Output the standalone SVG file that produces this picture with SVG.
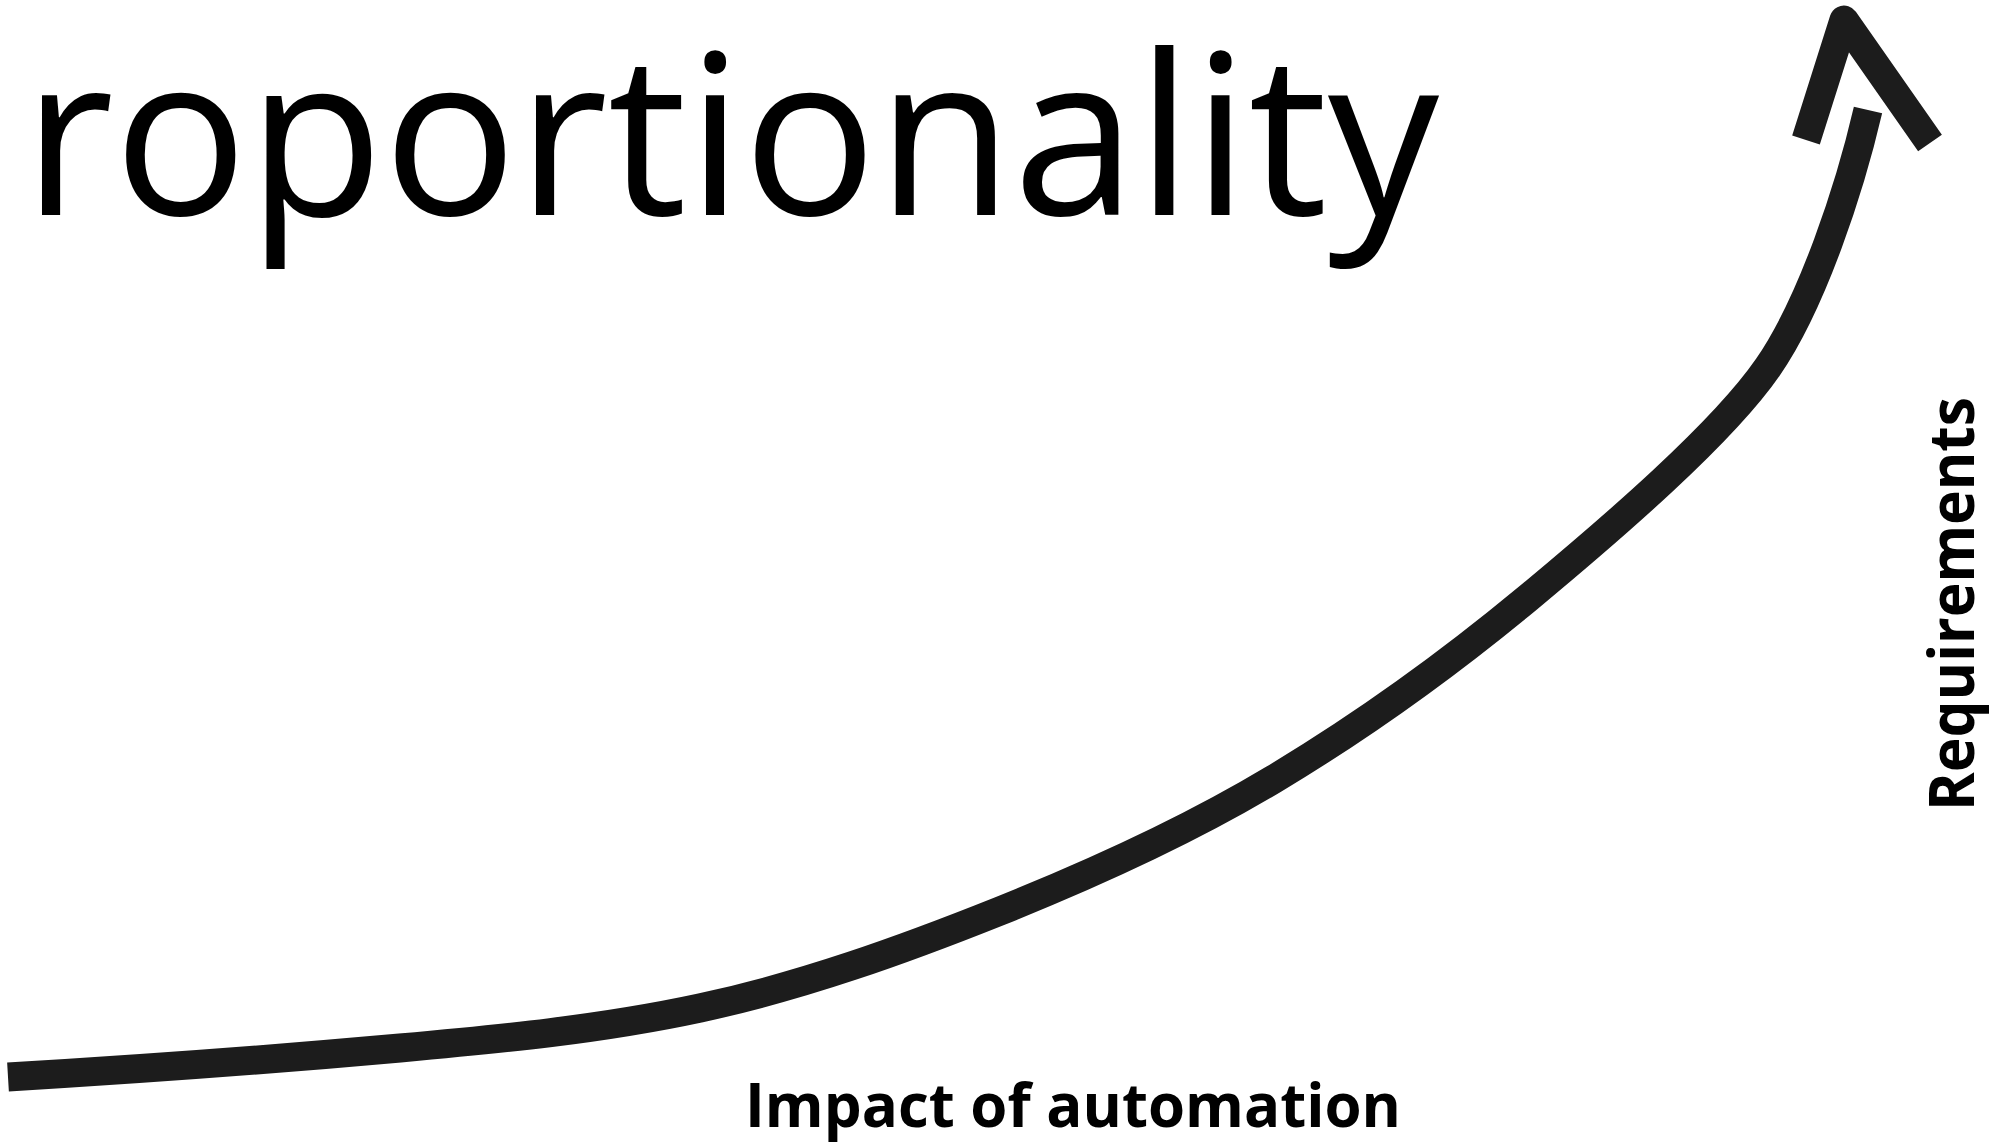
<svg xmlns="http://www.w3.org/2000/svg" width="1997" height="1142" viewBox="0 0 1997 1142">
  <style>
    .title { font-family: "Open Sans", "Liberation Sans", sans-serif; font-size: 224px; fill: #000; }
    .axis { font-family: "Open Sans", "Liberation Sans", sans-serif; font-weight: bold; fill: #000; }
    .stroke { fill: none; stroke: #1c1c1c; stroke-width: 29; }
  </style>
  <rect width="1997" height="1142" fill="#ffffff"/>

  <!-- heading -->
  <g id="title">
    <text class="title" x="23" y="215" textLength="1416" lengthAdjust="spacingAndGlyphs">roportionality</text>
  </g>

  <!-- growth curve and its open arrowhead -->
  <g id="connectors">
    <path id="curve" class="stroke" stroke-linecap="butt"
      d="M8,1077 C138.8,1069.2 269.5,1059.7 400,1048
         C500.5,1039 601.4,1029.2 700,1008
         C802.8,985.9 902.4,950 1000,911
         C1094.1,873.3 1187.1,831.2 1274,779
         C1370,721.4 1458.7,655.5 1528,598
         C1613.4,527.1 1722.6,432.9 1768,367
         C1812.3,302.8 1849.9,188.1 1868,110"/>
    <path id="arrowhead" class="stroke" stroke-linecap="butt" stroke-linejoin="round"
      d="M1806,140 L1844,20 L1930,143"/>
  </g>

  <!-- axis labels -->
  <g id="label-x">
    <text class="axis" x="745" y="1127" font-size="60" textLength="656" lengthAdjust="spacingAndGlyphs">Impact of automation</text>
  </g>
  <g id="label-y">
    <text class="axis" font-size="62" textLength="414" lengthAdjust="spacingAndGlyphs" transform="translate(1974,811) rotate(-90)">Requirements</text>
  </g>
</svg>
